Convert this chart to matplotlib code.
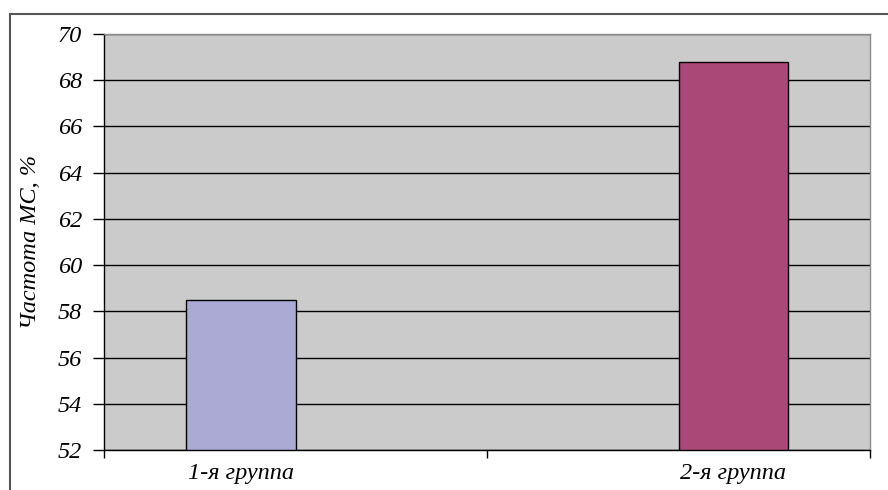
"""Bar chart: frequency of MS in two groups."""

import matplotlib
matplotlib.use("Agg")
import matplotlib.pyplot as plt
from matplotlib.lines import Line2D

# Data
groups = ["1-я группа", "2-я группа"]
values = [58.5, 68.8]
colors = ["#AAAAD5", "#AA4877"]
y_ticks = list(range(52, 71, 2))

plt.rcParams["font.family"] = ["Liberation Serif", "DejaVu Serif"]

fig = plt.figure(figsize=(8.88, 4.9), dpi=100)
ax = fig.add_axes([104 / 888, 40 / 490, 766 / 888, 416 / 490])
ax.set_facecolor("#CBCBCB")

# Excel-like clustered layout: each group is one series, so the bar sits
# in the left slot for the first category and the right slot for the second
n_series = len(groups)
gap = 0.2128
bar_w = (1 - 2 * gap) / n_series
centers = []
for i, (v, c) in enumerate(zip(values, colors)):
    x = i + gap + bar_w * (i + 0.5)
    centers.append(x)
    ax.bar(x, v - 52, bottom=52, width=bar_w, color=c,
           edgecolor="black", linewidth=1.0, zorder=3)

ax.set_xlim(0, len(groups))
ax.set_ylim(52, 70)
ax.set_yticks(y_ticks)
ax.set_yticklabels([str(t) for t in y_ticks], fontsize=17.5, fontstyle="italic")
ax.yaxis.grid(True, color="black", linewidth=1.0, zorder=1)
ax.set_axisbelow(True)

ax.set_xticks(centers)
ax.set_xticklabels(groups, fontsize=17.5, fontstyle="italic")
ax.set_xticks(range(len(groups) + 1), minor=True)
ax.tick_params(axis="x", which="major", length=0, pad=9)
ax.tick_params(axis="x", which="minor", length=5.5, width=1.0, color="black")
ax.tick_params(axis="y", length=8, width=1.0, pad=8, color="black")

ax.set_ylabel("Частота МС, %", fontsize=17.5, fontstyle="italic", labelpad=12)

for side in ("left", "bottom"):
    ax.spines[side].set_color("black")
    ax.spines[side].set_linewidth(1.0)
for side in ("top", "right"):
    ax.spines[side].set_color("#8c8c8c")
    ax.spines[side].set_linewidth(1.0)

# Outer frame (top and left edges visible in the crop)
fig.add_artist(Line2D([10 / 888, 1], [1 - 14 / 490, 1 - 14 / 490],
                      transform=fig.transFigure, color="#555555", linewidth=1.5))
fig.add_artist(Line2D([10 / 888, 10 / 888], [0, 1 - 14 / 490],
                      transform=fig.transFigure, color="#555555", linewidth=1.5))

fig.savefig("out.png", dpi=100, facecolor="white")
plt.close(fig)
